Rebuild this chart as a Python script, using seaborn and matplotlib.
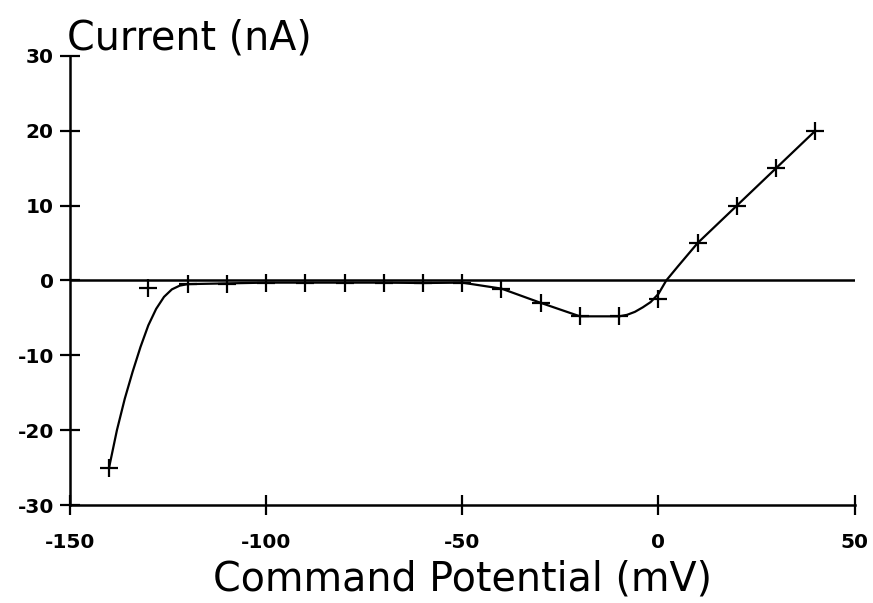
import matplotlib
matplotlib.use("Agg")
import matplotlib.pyplot as plt
import seaborn as sns
import pandas as pd

# measured points
voltage = [-140, -130, -120, -110, -100, -90, -80, -70, -60, -50,
           -40, -30, -20, -10, 0, 10, 20, 30, 40]
current = [-25, -1, -0.5, -0.5, -0.3, -0.3, -0.3, -0.3, -0.4, -0.3,
           -1.1, -3, -4.8, -4.8, -2.5, 5, 10, 15, 20]

# hand-drawn fit curve
curve_x = [-140, -138, -136, -134, -132, -130, -128, -126, -124, -122, -120,
           -110, -100, -90, -80, -70, -60, -50, -40, -30, -20, -10,
           -8, -6, -4, -2, 0, 2, 5, 10, 20, 30, 40]
curve_y = [-25, -20.0, -15.8, -12.2, -8.9, -6.0, -3.8, -2.2, -1.2, -0.7, -0.5,
           -0.4, -0.3, -0.3, -0.3, -0.3, -0.35, -0.3, -1.1, -3, -4.8, -4.8,
           -4.6, -4.2, -3.6, -2.9, -1.8, 0, 1.9, 5, 10, 15, 20]

xticks = [-150, -100, -50, 0, 50]
yticks = [-30, -20, -10, 0, 10, 20, 30]

sns.set_theme(style="ticks")
plt.rcParams["font.family"] = ["DejaVu Sans"]
plt.rcParams["axes.unicode_minus"] = False
plt.rcParams["text.color"] = "black"
plt.rcParams["axes.labelcolor"] = "black"
plt.rcParams["xtick.color"] = "black"
plt.rcParams["ytick.color"] = "black"

fig = plt.figure(figsize=(8.73, 6.03), dpi=100)
ax = fig.add_axes([0.080, 0.1625, 0.899, 0.745])

pts = pd.DataFrame({"V": voltage, "I": current})
fit = pd.DataFrame({"V": curve_x, "I": curve_y})

ax.axhline(0, color="black", lw=1.8, zorder=1)
sns.lineplot(data=fit, x="V", y="I", ax=ax, color="black", lw=1.6, sort=False)
sns.scatterplot(data=pts, x="V", y="I", ax=ax, marker="+", s=160,
                color="black", linewidth=1.6, zorder=3)

ax.set_xlim(-150, 50)
ax.set_ylim(-30, 30)
ax.set_xticks(xticks)
ax.set_yticks(yticks)
ax.tick_params(axis="both", direction="inout", length=15, width=1.6,
               colors="black", labelsize=14.5)
ax.tick_params(axis="x", pad=13)
ax.tick_params(axis="y", pad=4)
for lab in ax.get_xticklabels() + ax.get_yticklabels():
    lab.set_fontweight("bold")

for s in ["top", "right"]:
    ax.spines[s].set_visible(False)
for s in ["left", "bottom"]:
    ax.spines[s].set_linewidth(1.8)
    ax.spines[s].set_color("black")

ax.set_xlabel("Command Potential (mV)", fontsize=28.5, labelpad=5, color="black")
ax.set_ylabel("Current (nA)", fontsize=28.5, rotation=0, ha="left",
              va="baseline", color="black")
ax.yaxis.set_label_coords(-0.004, 1.013)

fig.savefig("out.png", dpi=100, facecolor="white")
